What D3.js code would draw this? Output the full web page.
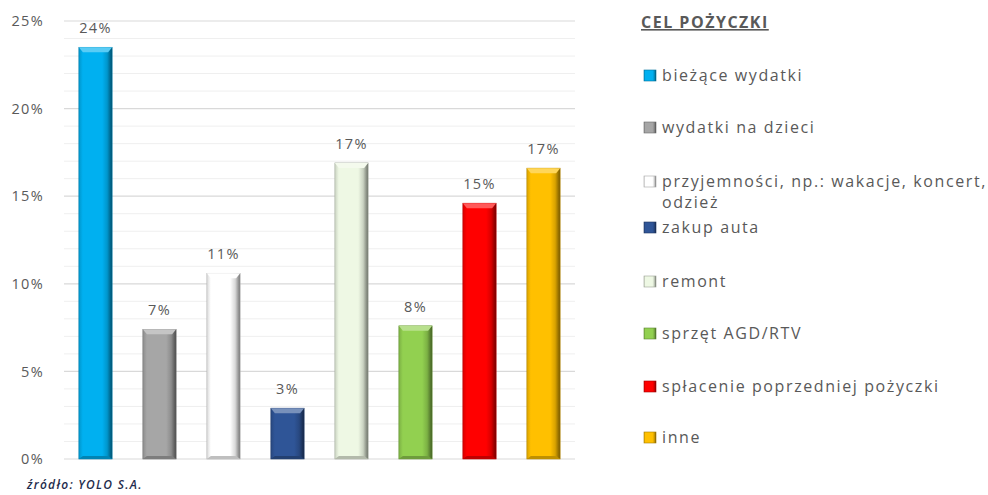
<!DOCTYPE html>
<html><head><meta charset="utf-8">
<script src="https://cdn.jsdelivr.net/npm/d3@7"></script>
<style>body{margin:0;background:#fff}svg{display:block}</style>
</head><body>
<svg id="c" width="988" height="495"></svg>
<script>
const categories = ["bieżące wydatki","wydatki na dzieci","przyjemności, np.: wakacje, koncert, odzież","zakup auta","remont","sprzęt AGD/RTV","spłacenie poprzedniej pożyczki","inne"];
const values = [23.5, 7.4, 10.6, 2.9, 16.9, 7.6, 14.6, 16.6];
const colors = ["#00B0F0","#A6A6A6","#FFFFFF","#2F5597","#EEF8E4","#92D050","#FF0000","#FFC000"];
const yTicks = [0,5,10,15,20,25];
const legendTitle = "CEL POŻYCZKI";
const sourceText = "źródło: YOLO S.A.";

const svg = d3.select("#c");
const font = "'Open Sans', sans-serif";
const x = d3.scaleBand().domain(categories).range([63.5, 575.5]).paddingInner(0.48).paddingOuter(0.24);
const y = d3.scaleLinear().domain([0,25]).range([459,21]);

// gridlines
svg.append("g").selectAll("line").data(d3.range(1,26).filter(v=>v%5!==0)).join("line")
  .attr("x1",64).attr("x2",575).attr("y1",d=>y(d)).attr("y2",d=>y(d))
  .attr("stroke","#EFEFEF").attr("stroke-width",1);
svg.append("g").selectAll("line").data(yTicks).join("line")
  .attr("x1",64).attr("x2",575).attr("y1",d=>y(d)).attr("y2",d=>y(d))
  .attr("stroke","#D9D9D9").attr("stroke-width",1.2);

// y axis labels
const yAxis = d3.axisLeft(y).tickValues(yTicks).tickFormat(d=>d+"%").tickSize(0).tickPadding(20);
const ga = svg.append("g").attr("transform","translate(64,0)").call(yAxis);
ga.select(".domain").remove();
ga.selectAll("text").attr("font-family",font).attr("font-size",14.5).attr("letter-spacing","1.3px").attr("fill","#595959");

// gradients
const defs = svg.append("defs");
colors.forEach((c,i)=>{
  const g = defs.append("linearGradient").attr("id","g"+i).attr("x1","0").attr("x2","1").attr("y1","0").attr("y2","0");
  const dark = d3.interpolateRgb(c, "#000")(0.55);
  const mid = d3.interpolateRgb(c, "#000")(0.15);
  g.append("stop").attr("offset","0").attr("stop-color",mid);
  g.append("stop").attr("offset","0.12").attr("stop-color",c);
  g.append("stop").attr("offset","0.7").attr("stop-color",c);
  g.append("stop").attr("offset","0.85").attr("stop-color",mid);
  g.append("stop").attr("offset","1").attr("stop-color",dark);
});

const bars = svg.append("g").selectAll("g").data(categories).join("g");
bars.append("rect")
  .attr("x",d=>x(d)).attr("width",x.bandwidth())
  .attr("y",(d,i)=>y(values[i])).attr("height",(d,i)=>y(0)-y(values[i]))
  .attr("fill",(d,i)=>`url(#g${i})`)
  .attr("stroke",(d,i)=>d3.interpolateRgb(colors[i],"#000")(0.3)).attr("stroke-width",0.6);
bars.append("path")
  .attr("d",(d,i)=>{const x0=x(d),w=x.bandwidth(),t=y(values[i]);
     return `M${x0},${t}L${x0+w},${t}L${x0+w-4},${t+5}L${x0+4},${t+5}Z`;})
  .attr("fill",(d,i)=>d3.interpolateRgb(colors[i],"#fff")(0.35));
bars.append("path")
  .attr("d",(d,i)=>{const x0=x(d),w=x.bandwidth(),b=y(0);
     return `M${x0},${b}L${x0+w},${b}L${x0+w-4},${b-3}L${x0+4},${b-3}Z`;})
  .attr("fill",(d,i)=>d3.interpolateRgb(colors[i],"#000")(0.25));

// data labels
svg.append("g").selectAll("text").data(categories).join("text")
  .attr("x",d=>x(d)+x.bandwidth()/2).attr("y",(d,i)=>y(values[i])-14)
  .attr("text-anchor","middle").attr("font-family",font).attr("font-size",14.5).attr("letter-spacing","1.3px").attr("fill","#595959")
  .text((d,i)=>Math.round(values[i])+"%");

// legend
const lg = svg.append("g");
lg.append("text").attr("x",641).attr("y",28).attr("font-family",font).attr("font-size",16)
  .attr("letter-spacing","1.5px")
  .attr("font-weight","bold").attr("fill","#595959").attr("text-decoration","underline").text(legendTitle);
const legendY = [76,128,182,228,282,334,387,438];
categories.forEach((c,i)=>{
  const yy = legendY[i];
  const gg = lg.append("g");
  gg.append("rect").attr("x",644).attr("y",yy-6).attr("width",12).attr("height",11)
    .attr("fill",`url(#g${i})`).attr("stroke",d3.interpolateRgb(colors[i],"#000")(0.35)).attr("stroke-width",0.6);
  const t = gg.append("text").attr("x",662).attr("y",yy+5).attr("font-family",font).attr("font-size",16)
    .attr("letter-spacing","1.6px").attr("fill","#595959");
  if (i===2) {
    t.append("tspan").attr("x",662).text("przyjemności, np.: wakacje, koncert,");
    t.append("tspan").attr("x",662).attr("dy",21).text("odzież");
  } else t.text(c);
});

svg.append("text").attr("x",27).attr("y",489).attr("font-family",font).attr("font-size",12)
  .attr("letter-spacing","1.3px").attr("font-weight",600)
  .attr("font-style","italic").attr("fill","#1F2D4D").text(sourceText);
</script>
</body></html>
